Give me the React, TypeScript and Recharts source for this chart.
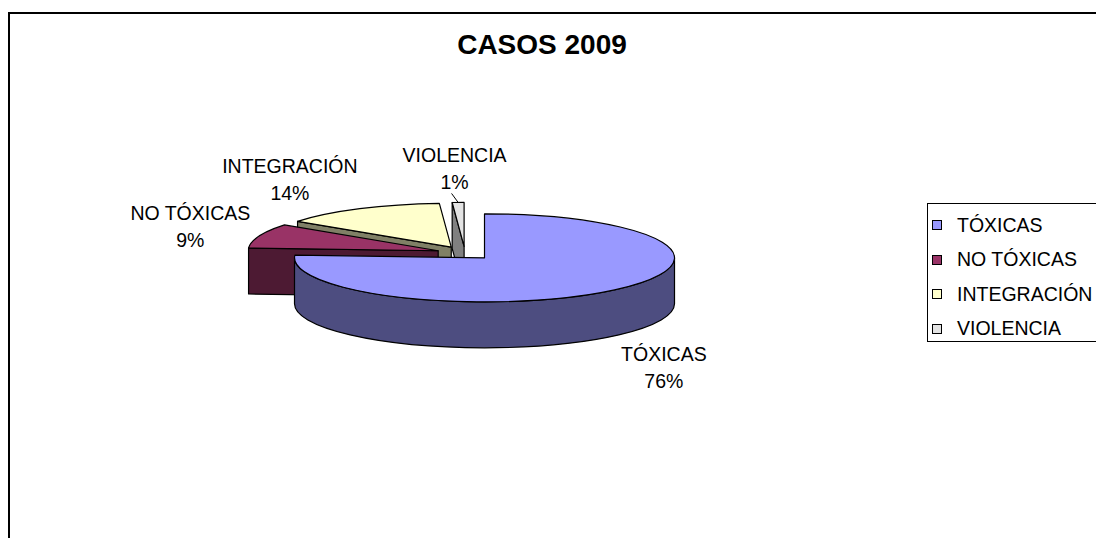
import React from 'react';
import { PieChart, Pie, Legend } from 'recharts';

// Chart values (percent of cases, 2009)
const categories = ['TÓXICAS', 'NO TÓXICAS', 'INTEGRACIÓN', 'VIOLENCIA'];
const values = [76, 9, 14, 1];

// Colours: top face and darker side face per category
const topColors = ['#9999FF', '#993366', '#FFFFCC', '#E3E3E3'];
const sideColors = ['#4D4D80', '#4D1A33', '#808066', '#808080'];

const FONT = "'Liberation Sans', Arial, sans-serif";
const LABEL_SIZE = 19.5;
const TILT = 0.2316; // vertical squash of the pie ellipse
const DEPTH = 46;
const EXPLODE = 0.15;

// drawn back to front, so the data goes in reverse and the pie runs counter-clockwise
const pieData = categories
  .map((name, i) => ({ name, value: values[i], top: topColors[i], side: sideColors[i] }))
  .reverse();

const rad = (d: number) => (d * Math.PI) / 180;

let measureCtx: CanvasRenderingContext2D | null = null;
const textWidth = (s: string) => {
  if (!measureCtx) measureCtx = document.createElement('canvas').getContext('2d');
  if (!measureCtx) return s.length * LABEL_SIZE * 0.6;
  measureCtx.font = `${LABEL_SIZE}px ${FONT}`;
  return measureCtx.measureText(s).width;
};

const Slice3D = (props: any) => {
  const { cx, cy, outerRadius, startAngle, endAngle } = props;
  const entry = props.payload?.payload ?? props.payload ?? props;
  const rx = outerRadius;
  const ry = outerRadius * TILT;
  const a1 = Math.min(startAngle, endAngle);
  const a2 = Math.max(startAngle, endAngle);
  const mid = (a1 + a2) / 2;
  const ox = cx + rx * EXPLODE * Math.cos(rad(mid));
  const oy = cy - ry * EXPLODE * Math.sin(rad(mid));
  const pt = (a: number, dy = 0) => [ox + rx * Math.cos(rad(a)), oy - ry * Math.sin(rad(a)) + dy];

  const [x1, y1] = pt(a1);
  const [x2, y2] = pt(a2);
  const top = `M${ox},${oy} L${x1},${y1} A${rx},${ry} 0 ${a2 - a1 > 180 ? 1 : 0} 0 ${x2},${y2} Z`;

  // outer wall, only the front half of the ellipse
  const walls: string[] = [];
  for (let k = -1; k <= 2; k++) {
    const lo = Math.max(a1, 180 + 360 * k);
    const hi = Math.min(a2, 360 + 360 * k);
    if (hi > lo) {
      const [sx, sy] = pt(lo);
      const [ex, ey] = pt(hi);
      walls.push(
        `M${sx},${sy} A${rx},${ry} 0 0 0 ${ex},${ey} L${ex},${ey + DEPTH} A${rx},${ry} 0 0 1 ${sx},${sy + DEPTH} Z`,
      );
    }
  }

  // cut faces that turn towards the viewer
  const faces: string[] = [];
  const face = (a: number) => {
    const [px, py] = pt(a);
    return `M${ox},${oy} L${px},${py} L${px},${py + DEPTH} L${ox},${oy + DEPTH} Z`;
  };
  if (Math.cos(rad(a1)) > 1e-6) faces.push(face(a1));
  if (Math.cos(rad(a2)) < -1e-6) faces.push(face(a2));

  const stroke = { stroke: '#000', strokeWidth: 1.2, strokeLinejoin: 'round' as const };
  return (
    <g>
      {faces.map((d, i) => (
        <path key={`f${i}`} d={d} fill={entry.side} {...stroke} />
      ))}
      {walls.map((d, i) => (
        <path key={`w${i}`} d={d} fill={entry.side} {...stroke} />
      ))}
      <path d={top} fill={entry.top} {...stroke} />
    </g>
  );
};

const renderLabel = (props: any) => {
  const { cx, cy, outerRadius, midAngle, name, percent } = props;
  const rx = outerRadius;
  const ry = outerRadius * TILT;
  const c = Math.cos(rad(midAngle));
  const s = Math.sin(rad(midAngle));
  const px = cx + rx * 1.2 * c;
  const py = cy - ry * 1.4 * s + (s < 0 ? DEPTH : 0) + 4;
  const w = textWidth(name);
  const h = 54;
  const tx = px + (w / 2) * Math.max(-1, Math.min(1, 2 * c));
  const ty = py + (h / 2) * -s;
  const small = percent < 0.02;
  const ox = cx + rx * EXPLODE * c;
  const oy = cy - ry * EXPLODE * s;
  return (
    <g>
      {small && (
        <line x1={tx - 3} y1={ty + 25} x2={ox + rx * c} y2={oy - ry * s} stroke="#000" strokeWidth={1} />
      )}
      <text x={tx} y={ty - 13.5} textAnchor="middle" dominantBaseline="central" fontFamily={FONT} fontSize={LABEL_SIZE} fill="#000">
        {name}
      </text>
      <text x={tx} y={ty + 13.5} textAnchor="middle" dominantBaseline="central" fontFamily={FONT} fontSize={LABEL_SIZE} fill="#000">
        {`${Math.round(percent * 100)}%`}
      </text>
    </g>
  );
};

const LegendBox = () => (
  <div
    style={{
      border: '1px solid #000',
      width: 180,
      height: 139,
      boxSizing: 'border-box',
      paddingTop: 4,
      paddingLeft: 4,
      background: '#fff',
      fontFamily: FONT,
      fontSize: LABEL_SIZE,
      color: '#000',
    }}
  >
    {categories.map((name, i) => (
      <div key={name} style={{ display: 'flex', alignItems: 'center', height: 34.5, whiteSpace: 'nowrap' }}>
        <span
          style={{
            display: 'inline-block',
            width: 10,
            height: 10,
            boxSizing: 'border-box',
            border: '1px solid #000',
            background: topColors[i],
            marginRight: 15,
          }}
        />
        <span>{name}</span>
      </div>
    ))}
  </div>
);

export default function App() {
  return (
    <div style={{ position: 'absolute', left: 0, top: 0, width: 1096, height: 538, overflow: 'hidden', background: '#fff' }}>
      <div
        style={{
          position: 'absolute',
          left: 8,
          top: 12,
          width: 1200,
          height: 600,
          borderTop: '2px solid #000',
          borderLeft: '2px solid #000',
        }}
      />
      <div style={{ position: 'absolute', left: 0, top: 0 }}>
        <PieChart width={1096} height={538} margin={{ top: 0, right: 0, bottom: 0, left: 0 }}>
          <Pie
            data={pieData}
            dataKey="value"
            nameKey="name"
            cx={465}
            cy={253}
            outerRadius={190}
            startAngle={90}
            endAngle={450}
            shape={Slice3D}
            label={renderLabel}
            labelLine={false}
            isAnimationActive={false}
          />
          <Legend
            content={LegendBox}
            wrapperStyle={{ position: 'absolute', left: 927, top: 203, width: 180, height: 139 }}
          />
        </PieChart>
      </div>
      <svg width={1096} height={80} style={{ position: 'absolute', left: 0, top: 0 }}>
        <text x={542} y={54} textAnchor="middle" fontFamily={FONT} fontSize={28} fontWeight="bold" fill="#000">
          CASOS 2009
        </text>
      </svg>
    </div>
  );
}
